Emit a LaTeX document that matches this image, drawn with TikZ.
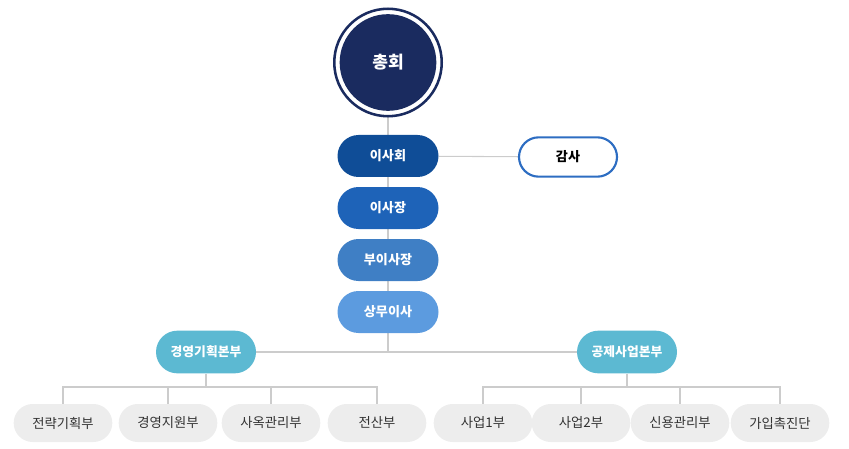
\documentclass[tikz,border=0pt]{standalone}
\usepackage{fontspec}
\newfontfamily\kr{Noto Sans CJK KR}
\usetikzlibrary{backgrounds}
\definecolor{navy}{HTML}{1A2B5F}
\definecolor{c1}{HTML}{0F4D97}
\definecolor{c2}{HTML}{1E63B8}
\definecolor{c3}{HTML}{3F7FC5}
\definecolor{c4}{HTML}{5C9BDF}
\definecolor{teal}{HTML}{5CB9D2}
\definecolor{ringblue}{HTML}{2D6DC2}
\definecolor{pillgray}{HTML}{EDEDED}
\definecolor{linegray}{HTML}{CCCCCC}
\definecolor{txtgray}{HTML}{333333}
\tikzset{
  toppill/.style={rectangle, minimum width=75.75pt, minimum height=31.5pt, rounded corners=15.75pt, text=white, inner sep=0pt, font=\kr\bfseries\fontsize{9.8}{11}\selectfont},
  hqpill/.style={rectangle, fill=teal, minimum width=75pt, minimum height=32pt, rounded corners=16pt, text=white, inner sep=0pt, font=\kr\bfseries\fontsize{9.6}{11}\selectfont},
  deptpill/.style={rectangle, fill=pillgray, minimum width=74pt, minimum height=28.5pt, rounded corners=14.25pt, text=txtgray, inner sep=0pt, font=\kr\fontsize{10}{11}\selectfont},
  auditpill/.style={rectangle, draw=ringblue, line width=1.6pt, fill=white, minimum width=73.5pt, minimum height=29.5pt, rounded corners=14.75pt, text=black, inner sep=0pt, font=\kr\bfseries\fontsize{9.8}{11}\selectfont},
  conn/.style={draw=linegray, line width=0.8pt},
}
\begin{document}
\begin{tikzpicture}[x=0.75pt,y=-0.75pt]
\useasboundingbox (0,0) rectangle (849,449);
% top circle
\draw[navy, line width=1.9pt, fill=white] (388,62.5) circle[radius=40.3pt];
\node[circle, fill=navy, minimum size=72.5pt, inner sep=0pt, text=white, font=\kr\bfseries\fontsize{12.8}{14}\selectfont] (chonghoe) at (388,62.5) {총회};
% executive chain
\node[toppill, fill=c1] (isahoe) at (388,156) {이사회};
\node[toppill, fill=c2] (isajang) at (388,208) {이사장};
\node[toppill, fill=c3] (buisajang) at (388,260) {부이사장};
\node[toppill, fill=c4] (sangmu) at (388,312) {상무이사};
\node[auditpill] (gamsa) at (568,157) {감사};
% headquarters
\node[hqpill] (hq1) at (206,352) {경영기획본부};
\node[hqpill] (hq2) at (627,352) {공제사업본부};
\coordinate (mid) at (388,352);
% departments
\node[deptpill] (d1) at (63,423) {전략기획부};
\node[deptpill] (d2) at (168,423) {경영지원부};
\node[deptpill] (d3) at (271,423) {사옥관리부};
\node[deptpill] (d4) at (377,423) {전산부};
\node[deptpill] (d5) at (483,423) {사업1부};
\node[deptpill] (d6) at (581,423) {사업2부};
\node[deptpill] (d7) at (680,423) {신용관리부};
\node[deptpill] (d8) at (780,423) {가입촉진단};
\coordinate (b1) at (206,387);
\coordinate (b2) at (627,387);
\begin{scope}[on background layer]
\draw[conn] (chonghoe) -- (isahoe) -- (isajang) -- (buisajang) -- (sangmu) -- (mid);
\draw[conn] (isahoe) -- (gamsa);
\draw[conn] (hq1) -- (hq2);
\draw[conn] (hq1) -- (b1);
\draw[conn] (hq2) -- (b2);
\draw[conn] (d1) |- (b1) -| (d4);
\draw[conn] (d2) -- (d2 |- b1);
\draw[conn] (d3) -- (d3 |- b1);
\draw[conn] (d5) |- (b2) -| (d8);
\draw[conn] (d6) -- (d6 |- b2);
\draw[conn] (d7) -- (d7 |- b2);
\end{scope}
\end{tikzpicture}
\end{document}
